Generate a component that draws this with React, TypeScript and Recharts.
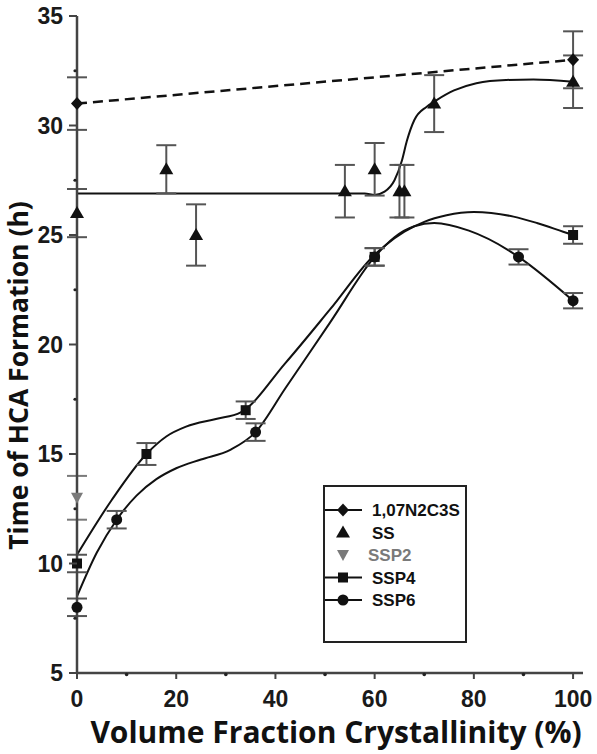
import React from 'react';
import { ComposedChart, Line, Scatter, XAxis, YAxis, ErrorBar, Legend } from 'recharts';

// ---------- data ----------
const xTicks = [0, 10, 20, 30, 40, 50, 60, 70, 80, 90, 100];
const yTicks = [5, 7.5, 10, 12.5, 15, 17.5, 20, 22.5, 25, 27.5, 30, 32.5, 35];

// measured points (with error bars)
const n2c3sX = [0, 100];
const n2c3sY = [31, 33];
const n2c3sErr = [1.2, 1.3];

const ssX = [0, 18, 24, 54, 60, 65, 66, 72, 100];
const ssY = [26, 28, 25, 27, 28, 27, 27, 31, 32];
const ssErr = [1.1, 1.1, 1.4, 1.2, 1.2, 1.2, 1.2, 1.3, 1.2];

const ssp2X = [0];
const ssp2Y = [13];
const ssp2Err = [1.0];

const ssp4X = [0, 14, 34, 60, 100];
const ssp4Y = [10, 15, 17, 24, 25];
const ssp4Err = [0.4, 0.5, 0.4, 0.4, 0.4];

const ssp6X = [0, 8, 36, 60, 89, 100];
const ssp6Y = [8, 12, 16, 24, 24, 22];
const ssp6Err = [0.4, 0.4, 0.4, 0.4, 0.35, 0.35];

// fitted curves
const n2c3sFitX = [0, 100];
const n2c3sFitY = [31, 33];

const ssFitX = [0, 58, 60, 62, 64, 65.5, 66.5, 68, 70.5, 72.5, 76, 80.5, 86.5, 92, 100];
const ssFitY = [26.9, 26.9, 26.83, 26.98, 27.5, 28.4, 29.3, 30.25, 30.86, 31.16, 31.6, 31.93, 32.08, 32.1, 32.0];

const ssp4FitX = [0, 7, 14, 18, 22, 28, 33, 42, 51, 60, 62, 66, 70, 74.5, 80, 88, 92.7, 98, 100];
const ssp4FitY = [10.4, 12.9, 15.0, 15.8, 16.25, 16.6, 16.9, 19.15, 21.6, 24.1, 24.5, 25.15, 25.6, 25.9, 26.05, 25.84, 25.55, 25.15, 25.0];

const ssp6FitX = [0, 4, 8, 12, 16, 20, 25, 31, 36, 42, 51, 60, 64, 68, 72, 79, 87, 89, 100];
const ssp6FitY = [8.5, 10.5, 12.0, 13.1, 13.85, 14.35, 14.75, 15.2, 16.0, 18.0, 21.0, 24.0, 24.9, 25.4, 25.55, 25.2, 24.3, 24.0, 22.0];

const legendNames = ['1,07N2C3S', 'SS', 'SSP2', 'SSP4', 'SSP6'];
const xLabelText = 'Volume Fraction Crystallinity (%)';
const yLabelText = 'Time of HCA Formation (h)';

// ---------- helpers ----------
const pts = (xs: number[], ys: number[], es?: number[]) =>
  xs.map((x, i) => ({ x, y: ys[i], err: es ? es[i] : 0 }));

const BLACK = '#111';
const GREY = '#7a7a7a';
const ERR = '#555';
const AXIS = '#444';
const TICK_FONT = '"Liberation Sans", Arial, sans-serif';
const LABEL_FONT = '"Open Sans", Lato, sans-serif';

const Diamond = ({ cx, cy, fill }: any) => (
  <path d={`M${cx},${cy - 6.5} L${cx + 6},${cy} L${cx},${cy + 6.5} L${cx - 6},${cy} Z`} fill={fill} />
);
const Triangle = ({ cx, cy, fill }: any) => (
  <path d={`M${cx},${cy - 7} L${cx + 7},${cy + 5} L${cx - 7},${cy + 5} Z`} fill={fill} />
);
const InvTriangle = ({ cx, cy, fill }: any) => (
  <path d={`M${cx - 6},${cy - 5} L${cx + 6},${cy - 5} L${cx},${cy + 6} Z`} fill={fill} />
);
const Square = ({ cx, cy, fill }: any) => (
  <rect x={cx - 5} y={cy - 5} width={10} height={10} fill={fill} />
);
const Dot = ({ cx, cy, fill }: any) => <circle cx={cx} cy={cy} r={5.5} fill={fill} />;

const LeftTick = (props: any) => {
  const { x, y, payload } = props;
  const v = payload.value;
  const major = v % 5 === 0;
  return (
    <g>
      {major ? (
        <line x1={x - 8} x2={x} y1={y} y2={y} stroke={AXIS} strokeWidth={2} />
      ) : (
        <circle cx={x - 2} cy={y} r={1.6} fill="#222" />
      )}
      {major && (
        <text x={x - 14} y={y} dy="0.36em" textAnchor="end" fontFamily={TICK_FONT} fontWeight="bold" fontSize={23} fill="#1a1a1a">
          {v}
        </text>
      )}
    </g>
  );
};

const BottomTick = (props: any) => {
  const { x, y, payload } = props;
  const v = payload.value;
  const major = v % 20 === 0;
  return (
    <g>
      {major ? (
        <line x1={x} x2={x} y1={y} y2={y + 6} stroke={AXIS} strokeWidth={2} />
      ) : (
        <circle cx={x} cy={y + 1.5} r={1.8} fill="#222" />
      )}
      {major && (
        <text x={x} y={y + 34} textAnchor="middle" fontFamily={TICK_FONT} fontWeight="bold" fontSize={23} fill="#1a1a1a">
          {v}
        </text>
      )}
    </g>
  );
};

const TopTick = (props: any) => {
  const { x, y } = props;
  return <circle cx={x} cy={y} r={1.8} fill="#222" />;
};
const RightTick = (props: any) => {
  const { x, y } = props;
  return <circle cx={x} cy={y} r={1.8} fill="#222" />;
};

const XLabel = (props: any) => {
  const vb = props.viewBox;
  return (
    <text x={vb.x + vb.width / 2 + 6} y={vb.y + 70} textAnchor="middle" fontFamily={LABEL_FONT} fontWeight="bold" fontSize={30} fill="#111">
      {xLabelText}
    </text>
  );
};
const YLabel = (props: any) => {
  const vb = props.viewBox;
  const cx = vb.x + 11;
  const cy = vb.y + vb.height / 2 + 31;
  return (
    <text x={cx} y={cy} transform={`rotate(-90, ${cx}, ${cy})`} textAnchor="middle" fontFamily={LABEL_FONT} fontWeight="bold" fontSize={26.5} fill="#111">
      {yLabelText}
    </text>
  );
};

const legendShapes = [Diamond, Triangle, InvTriangle, Square, Dot];
const legendHasLine = [true, false, false, true, true];
const legendColors = [BLACK, BLACK, GREY, BLACK, BLACK];

const LegendBox = () => (
  <div style={{ width: 144, height: 158, border: '2px solid #222', boxSizing: 'border-box', background: '#fff' }}>
    <svg width={140} height={154} style={{ display: 'block', overflow: 'visible' }}>
      {legendNames.map((name, i) => {
        const cy = 23 + i * 22.5;
        const Shape = legendShapes[i];
        return (
          <g key={name}>
            {legendHasLine[i] && <line x1={0} x2={37} y1={cy} y2={cy} stroke={BLACK} strokeWidth={2} />}
            <Shape cx={18} cy={cy} fill={legendColors[i]} />
            <text x={i === 2 ? 43 : 47} y={cy} dy="0.36em" fontFamily={TICK_FONT} fontWeight="bold" fontSize={17} fill={legendColors[i]}>
              {name}
            </text>
          </g>
        );
      })}
    </svg>
  </div>
);

export default function App() {
  return (
    <div style={{ position: 'absolute', left: 0, top: 0, width: 597, height: 754, background: '#fff' }}>
      <ComposedChart width={597} height={754} margin={{ top: 16, right: 14, left: 17, bottom: 51 }}>
        <XAxis
          dataKey="x"
          type="number"
          domain={[0, 102]}
          ticks={xTicks}
          height={30}
          tickSize={0}
          tickMargin={0}
          tickLine={false}
          tick={BottomTick}
          axisLine={{ stroke: AXIS, strokeWidth: 2.5 }}
          label={<XLabel />}
        />
        <XAxis
          xAxisId="top"
          orientation="top"
          dataKey="x"
          type="number"
          domain={[0, 102]}
          ticks={xTicks}
          height={0}
          tickSize={0}
          tickMargin={0}
          tickLine={false}
          tick={TopTick}
          axisLine={{ stroke: AXIS, strokeWidth: 2.5 }}
        />
        <YAxis
          type="number"
          domain={[5, 35]}
          ticks={yTicks}
          width={60}
          tickSize={0}
          tickMargin={0}
          tickLine={false}
          tick={LeftTick}
          axisLine={{ stroke: AXIS, strokeWidth: 2.5 }}
          label={<YLabel />}
        />
        <YAxis
          yAxisId="right"
          orientation="right"
          type="number"
          domain={[5, 35]}
          ticks={yTicks}
          width={0}
          tickSize={0}
          tickMargin={0}
          tickLine={false}
          tick={RightTick}
          axisLine={{ stroke: AXIS, strokeWidth: 2.5 }}
        />

        <Line data={pts(n2c3sFitX, n2c3sFitY)} dataKey="y" type="linear" stroke={BLACK} strokeWidth={2.5} strokeDasharray="10 6" dot={false} activeDot={false} isAnimationActive={false} legendType="none" />
        <Line data={pts(ssFitX, ssFitY)} dataKey="y" type="monotone" stroke={BLACK} strokeWidth={2} dot={false} activeDot={false} isAnimationActive={false} legendType="none" />
        <Line data={pts(ssp4FitX, ssp4FitY)} dataKey="y" type="monotone" stroke={BLACK} strokeWidth={2} dot={false} activeDot={false} isAnimationActive={false} legendType="none" />
        <Line data={pts(ssp6FitX, ssp6FitY)} dataKey="y" type="monotone" stroke={BLACK} strokeWidth={2} dot={false} activeDot={false} isAnimationActive={false} legendType="none" />

        <Scatter name={legendNames[0]} data={pts(n2c3sX, n2c3sY, n2c3sErr)} dataKey="y" fill={BLACK} shape={(p: any) => <Diamond {...p} />} isAnimationActive={false}>
          <ErrorBar dataKey="err" direction="y" width={10} stroke={ERR} strokeWidth={2} />
        </Scatter>
        <Scatter name={legendNames[1]} data={pts(ssX, ssY, ssErr)} dataKey="y" fill={BLACK} shape={(p: any) => <Triangle {...p} />} isAnimationActive={false}>
          <ErrorBar dataKey="err" direction="y" width={10} stroke={ERR} strokeWidth={2} />
        </Scatter>
        <Scatter name={legendNames[2]} data={pts(ssp2X, ssp2Y, ssp2Err)} dataKey="y" fill={GREY} shape={(p: any) => <InvTriangle {...p} />} isAnimationActive={false}>
          <ErrorBar dataKey="err" direction="y" width={10} stroke={GREY} strokeWidth={2} />
        </Scatter>
        <Scatter name={legendNames[3]} data={pts(ssp4X, ssp4Y, ssp4Err)} dataKey="y" fill={BLACK} shape={(p: any) => <Square {...p} />} isAnimationActive={false}>
          <ErrorBar dataKey="err" direction="y" width={10} stroke={ERR} strokeWidth={2} />
        </Scatter>
        <Scatter name={legendNames[4]} data={pts(ssp6X, ssp6Y, ssp6Err)} dataKey="y" fill={BLACK} shape={(p: any) => <Dot {...p} />} isAnimationActive={false}>
          <ErrorBar dataKey="err" direction="y" width={10} stroke={ERR} strokeWidth={2} />
        </Scatter>

        <Legend
          layout="horizontal"
          verticalAlign="middle"
          align="center"
          content={() => <LegendBox />}
          wrapperStyle={{ position: 'absolute', left: 323, top: 485, width: 144, height: 158 }}
        />
      </ComposedChart>
    </div>
  );
}
